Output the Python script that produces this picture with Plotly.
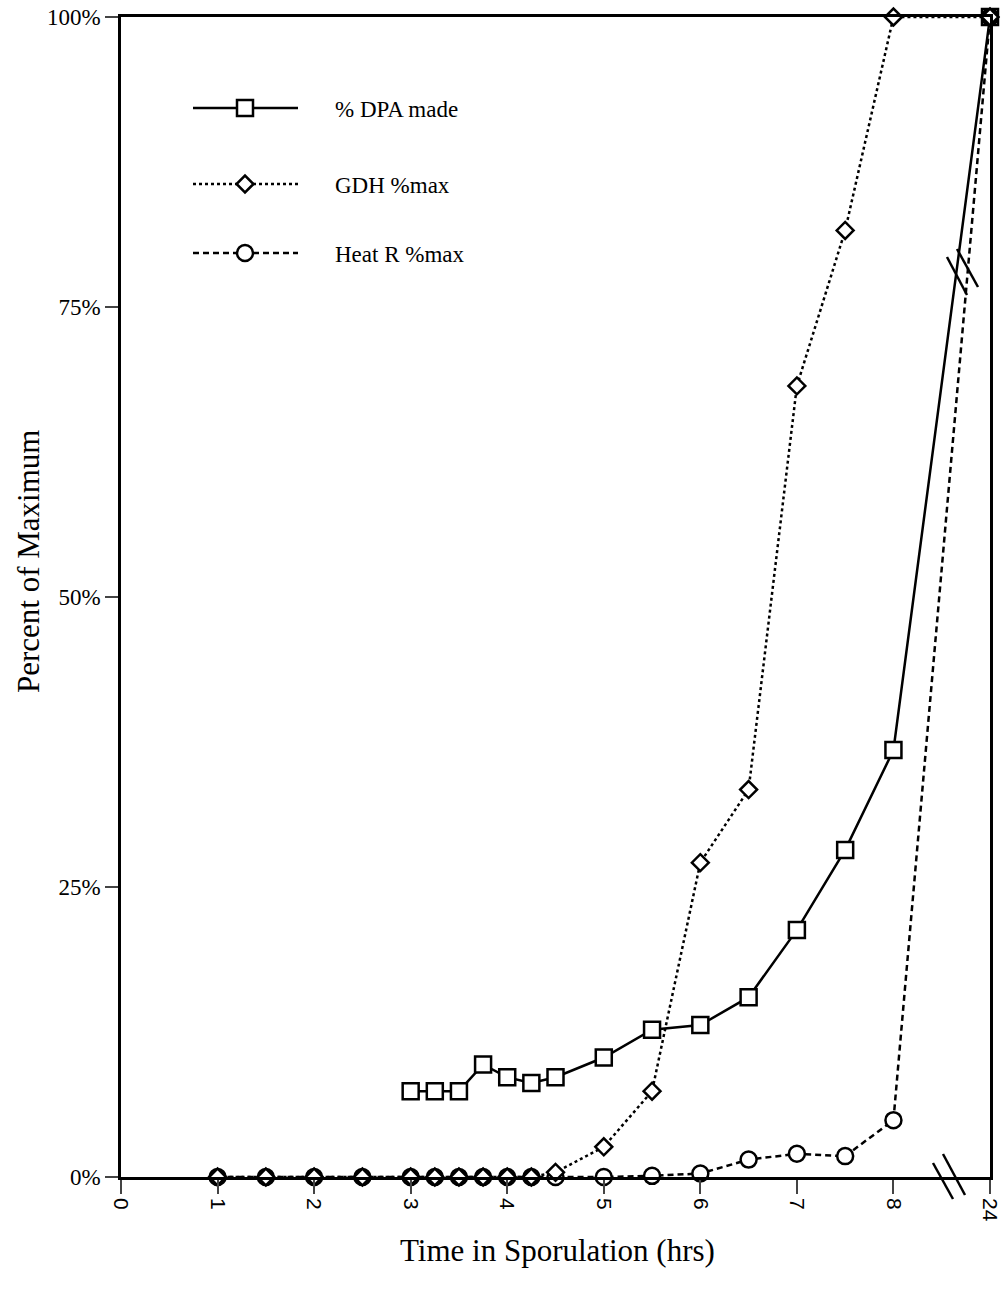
import plotly.graph_objects as go

# ---- data ----
tick_labels = ["0", "1", "2", "3", "4", "5", "6", "7", "8", "24"]
tick_pos = [0, 1, 2, 3, 4, 5, 6, 7, 8, 9]  # 24 h plotted after the axis break

dpa_t = [3, 3.25, 3.5, 3.75, 4, 4.25, 4.5, 5, 5.5, 6, 6.5, 7, 7.5, 8, 9]
dpa_v = [7.4, 7.4, 7.4, 9.7, 8.6, 8.1, 8.6, 10.3, 12.7, 13.1, 15.5, 21.3, 28.2, 36.8, 100]

gdh_t = [1, 1.5, 2, 2.5, 3, 3.25, 3.5, 3.75, 4, 4.25, 4.5, 5, 5.5, 6, 6.5, 7, 7.5, 8, 9]
gdh_v = [0, 0, 0, 0, 0, 0, 0, 0, 0, 0, 0.4, 2.6, 7.4, 27.1, 33.4, 68.2, 81.6, 100, 100]

heat_t = [1, 1.5, 2, 2.5, 3, 3.25, 3.5, 3.75, 4, 4.25, 4.5, 5, 5.5, 6, 6.5, 7, 7.5, 8, 9]
heat_v = [0, 0, 0, 0, 0, 0, 0, 0, 0, 0, 0, 0, 0.1, 0.3, 1.5, 2.0, 1.8, 4.9, 100]

series_names = ["% DPA made", "GDH %max", "Heat R %max"]

FONT = "Liberation Serif, Times New Roman, serif"
SANS = "Liberation Sans, Arial, sans-serif"
LW = 2.5
W, H = 1006, 1291
L, R, T, B = 121, 990, 17, 1177

fig = go.Figure()

styles = [
    dict(dash="solid", symbol="square", size=16),
    dict(dash="3px,3px", symbol="diamond", size=13),
    dict(dash="6px,4px", symbol="circle", size=16),
]

data = [(dpa_t, dpa_v), (heat_t, heat_v), (gdh_t, gdh_v)]
order = [0, 2, 1]
for (xs, ys), idx in zip(data, order):
    st = styles[idx]
    fig.add_trace(go.Scatter(
        x=xs, y=ys, mode="lines+markers", name=series_names[idx],
        line=dict(color="black", width=LW, dash=st["dash"]),
        marker=dict(symbol=st["symbol"], size=st["size"], color="white",
                    line=dict(color="black", width=2.5)),
        cliponaxis=False, showlegend=False,
    ))

# ---- manual legend on a pixel-space overlay axis ----
leg_y = [108, 184, 253]
for i, name in enumerate(series_names):
    st = styles[i]
    fig.add_trace(go.Scatter(
        x=[193, 298], y=[leg_y[i], leg_y[i]], mode="lines",
        line=dict(color="black", width=LW, dash=st["dash"]),
        xaxis="x2", yaxis="y2", showlegend=False, hoverinfo="skip"))
    fig.add_trace(go.Scatter(
        x=[245], y=[leg_y[i]], mode="markers",
        marker=dict(symbol=st["symbol"], size=st["size"], color="white",
                    line=dict(color="black", width=2.5)),
        xaxis="x2", yaxis="y2", showlegend=False, hoverinfo="skip"))
    fig.add_annotation(x=333, y=leg_y[i] + 1, xref="x2", yref="y2", text=name,
                       showarrow=False, xanchor="left", yanchor="middle",
                       font=dict(family=FONT, size=23, color="black"))


def px2paper(px, py):
    return (px - L) / (R - L), (B - py) / (B - T)


# ---- axis titles (pixel placement via paper coords) ----
xt, yt = px2paper(557, 1250)
fig.add_annotation(x=xt, y=yt, xref="paper", yref="paper",
                   text="Time in Sporulation (hrs)", showarrow=False,
                   xanchor="center", yanchor="middle",
                   font=dict(family=FONT, size=31, color="black"))
xt, yt = px2paper(28, 562)
fig.add_annotation(x=xt, y=yt, xref="paper", yref="paper",
                   text="Percent of Maximum", showarrow=False, textangle=-90,
                   xanchor="center", yanchor="middle",
                   font=dict(family=FONT, size=31, color="black"))

# ---- axis break marks ----
breaks = [((933, 1163), (953, 1199)), ((943, 1154), (965, 1195)),
          ((947, 257), (967, 295)), ((957, 249), (978, 287))]
for (a, b) in breaks:
    x0, y0 = px2paper(*a)
    x1, y1 = px2paper(*b)
    fig.add_shape(type="line", xref="paper", yref="paper", x0=x0, y0=y0,
                  x1=x1, y1=y1, line=dict(color="black", width=2.5))

fig.update_layout(
    width=W, height=H,
    margin=dict(l=L, r=W - R, t=T, b=H - B),
    paper_bgcolor="white", plot_bgcolor="white",
    font=dict(family=FONT, size=22, color="black"),
    xaxis=dict(
        range=[0, 9], tickvals=tick_pos, ticktext=tick_labels,
        tickangle=90, ticks="outside", ticklen=14, tickwidth=1.5,
        showline=True, linewidth=LW, linecolor="black", mirror=True,
        showgrid=False, zeroline=False, automargin=False,
        tickfont=dict(family=SANS, size=21),
    ),
    yaxis=dict(
        range=[0, 100], tickvals=[0, 25, 50, 75, 100],
        ticktext=["0%", "25%", "50%", "75%", "100%"],
        ticks="outside", ticklen=13, tickwidth=1.5,
        showline=True, linewidth=LW, linecolor="black", mirror=True,
        showgrid=False, zeroline=False, automargin=False,
        tickfont=dict(family=FONT, size=23),
    ),
    xaxis2=dict(range=[L, R], overlaying="x", visible=False, fixedrange=True),
    yaxis2=dict(range=[B, T], overlaying="y", visible=False, fixedrange=True),
)

fig.write_html("out.html")
